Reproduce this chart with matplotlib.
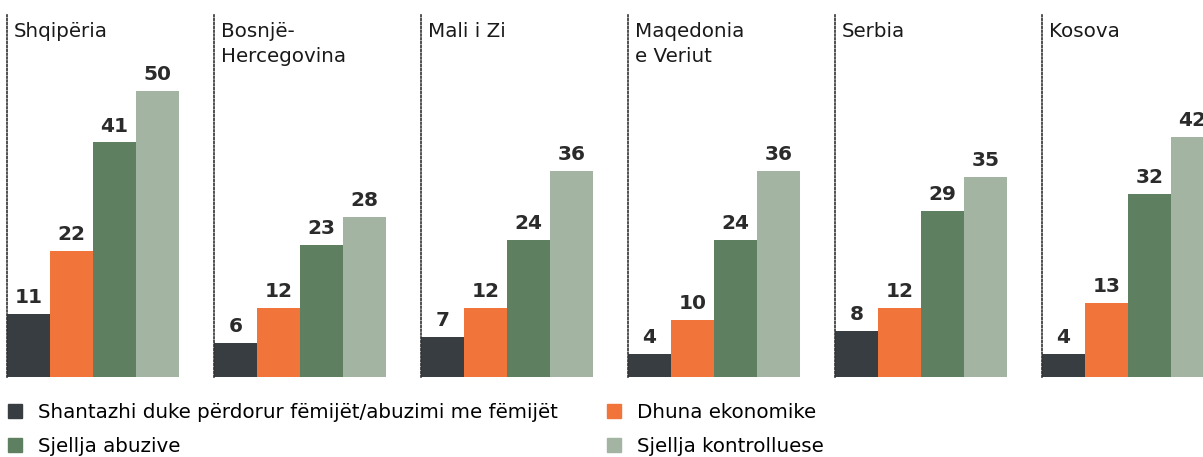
import matplotlib.pyplot as plt
from matplotlib.patches import Patch

countries = ['Shqipëria', 'Bosnjë-\nHercegovina', 'Mali i Zi', 'Maqedonia\ne Veriut', 'Serbia', 'Kosova']
shantazhi = [11, 6, 7, 4, 8, 4]
dhuna_ekonomike = [22, 12, 12, 10, 12, 13]
sjellja_abuzive = [41, 23, 24, 24, 29, 32]
sjellja_kontrolluese = [50, 28, 36, 36, 35, 42]

series_names = ['Shantazhi duke përdorur fëmijët/abuzimi me fëmijët', 'Dhuna ekonomike',
                'Sjellja abuzive', 'Sjellja kontrolluese']
colors = ['#383d42', '#f1743b', '#5f8060', '#a3b5a2']

plt.rcParams['font.family'] = ['DejaVu Sans']

W, H = 1203, 457
fig = plt.figure(figsize=(W / 100, H / 100), dpi=100)

panel_x0 = 7
panel_step = 207
bar_px = 43
base_px = 377
top_px = 15
px_per_unit = 5.72

all_series = [shantazhi, dhuna_ekonomike, sjellja_abuzive, sjellja_kontrolluese]

for i, country in enumerate(countries):
    left = panel_x0 + i * panel_step
    ax = fig.add_axes([left / W, (H - base_px) / H, 4 * bar_px / W, (base_px - top_px) / H])
    vals = [s[i] for s in all_series]
    ax.bar(range(4), vals, width=1.0, color=colors, align='edge')
    for j, v in enumerate(vals):
        ax.annotate(str(v), (j + 0.5, v), xytext=(0, 5), textcoords='offset points',
                    ha='center', va='bottom', fontsize=14.5, fontweight='bold', color='#2b2b2b')
    ax.set_xlim(0, 4)
    ax.set_ylim(0, (base_px - top_px) / px_per_unit)
    for s in ['top', 'right', 'bottom']:
        ax.spines[s].set_visible(False)
    ax.spines['left'].set_linestyle((0, (1, 1.3)))
    ax.spines['left'].set_linewidth(1.2)
    ax.spines['left'].set_color('#333333')
    ax.set_xticks([])
    ax.set_yticks([])
    ax.patch.set_alpha(0)
    ax.text(7 / (4 * bar_px), 1 - 7 / (base_px - top_px), country, transform=ax.transAxes,
            ha='left', va='top', fontsize=14.3, color='#1a1a1a', linespacing=1.4)

handles = [Patch(color=c) for c in colors]
order = [0, 2, 1, 3]
fig.legend([handles[k] for k in order], [series_names[k] for k in order],
           loc='upper left', bbox_to_anchor=(8 / W, (H - 403) / H), ncol=2, frameon=False,
           fontsize=14.3, handlelength=0.7, handleheight=0.7, handletextpad=0.8,
           columnspacing=2.5, labelspacing=0.75, borderpad=0, borderaxespad=0)

fig.savefig('out.png', dpi=100)
